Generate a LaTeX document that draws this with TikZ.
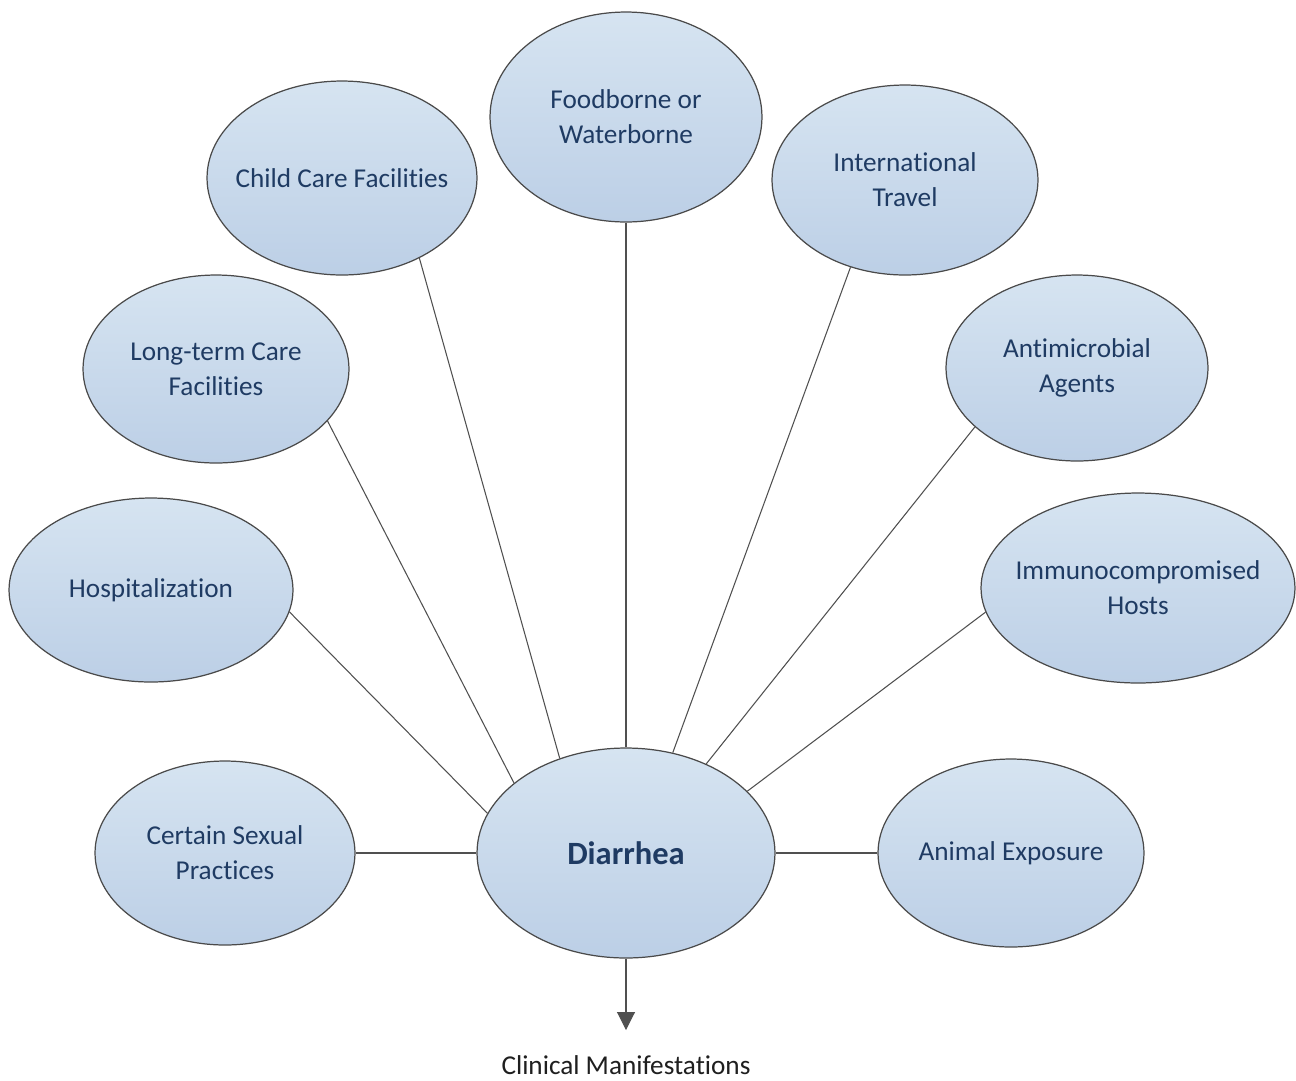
\documentclass[tikz,border=0pt]{standalone}
\usepackage{fontspec}
\setmainfont{Carlito}[Ligatures={NoCommon}, RawFeature={-liga;-clig}]
\usetikzlibrary{arrows.meta,shapes.geometric}
\definecolor{txtblue}{HTML}{1F3B63}
\definecolor{topfill}{HTML}{D6E4F1}
\definecolor{botfill}{HTML}{BCCFE6}
\definecolor{edgegray}{HTML}{4A4A4A}
\definecolor{linegray}{HTML}{505050}
\begin{document}
\begin{tikzpicture}[x=0.02cm,y=-0.02cm,
  bubble/.style={ellipse, draw=edgegray, line width=0.7pt, top color=topfill, bottom color=botfill, inner sep=0pt},
  btext/.style={text=txtblue, font=\fontsize{15.5}{20}\selectfont, align=center, inner sep=0pt},
  link/.style={draw=linegray, line width=0.6pt}]
\useasboundingbox[fill=white] (0,0) rectangle (1296,1080);

\node[bubble, minimum width=5.44cm, minimum height=4.20cm, label={[btext]center:Foodborne or\\Waterborne}] (food) at (626,117) {};
\node[bubble, minimum width=5.40cm, minimum height=3.88cm, label={[btext]center:Child Care Facilities}] (child) at (342,178) {};
\node[bubble, minimum width=5.32cm, minimum height=3.80cm, label={[btext]center:International\\Travel}] (intl) at (905,180) {};
\node[bubble, minimum width=5.32cm, minimum height=3.76cm, label={[btext]center:Long-term Care\\Facilities}] (ltc) at (216,369) {};
\node[bubble, minimum width=5.24cm, minimum height=3.72cm, label={[btext]center:Antimicrobial\\Agents}] (anti) at (1077,368) {};
\node[bubble, minimum width=5.68cm, minimum height=3.68cm, label={[btext]center:Hospitalization}] (hosp) at (151,590) {};
\node[bubble, minimum width=6.28cm, minimum height=3.80cm, label={[btext]center:Immunocompromised\\Hosts}] (immuno) at (1138,588) {};
\node[bubble, minimum width=5.20cm, minimum height=3.68cm, label={[btext]center:Certain Sexual\\Practices}] (sex) at (225,853) {};
\node[bubble, minimum width=5.96cm, minimum height=4.20cm, label={[btext, font=\fontsize{18.5}{22}\selectfont\bfseries]center:Diarrhea}] (dia) at (626,853) {};
\node[bubble, minimum width=5.32cm, minimum height=3.76cm, label={[btext]center:Animal Exposure}] (animal) at (1011,853) {};

\node[font=\fontsize{15.5}{20}\selectfont, text=black!88, inner sep=0pt] (cm) at (626,1065) {Clinical Manifestations};
\coordinate (cmtip) at (626,1030);

\draw[link] (food.south) -- (dia.north);
\draw[link] (child.-46.1) -- (dia.125.3);
\draw[link] (ltc.-25.5) -- (dia.148.2);
\draw[link] (hosp.-9.06) -- (dia.164.8);
\draw[link] (sex.east) -- (dia.west);
\draw[link] (intl.-122.6) -- (dia.65.5);
\draw[link] (anti.-150.2) -- (dia.48.4);
\draw[link] (immuno.-171.2) -- (dia.27.1);
\draw[link] (animal.west) -- (dia.east);
\draw[link, -{Triangle[length=0.36cm,width=0.36cm]}] (dia.south) -- (cmtip);
\end{tikzpicture}
\end{document}
